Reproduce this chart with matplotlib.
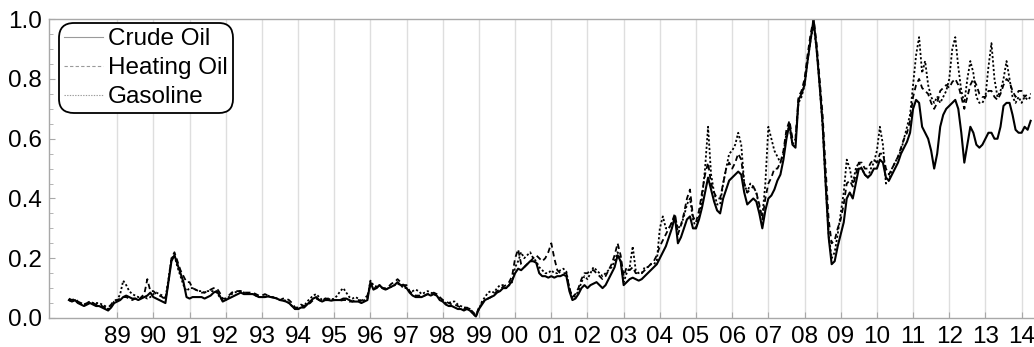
import numpy as np
import matplotlib.pyplot as plt
from matplotlib.ticker import MultipleLocator, FixedLocator, FormatStrFormatter

plt.rcParams['font.family'] = ['Liberation Sans', 'DejaVu Sans']

# monthly samples, Sep 1987 .. Apr 2014 (normalised prices, 0..1)
t0 = 1987 + 8/12
crude = [
    0.06, 0.055, 0.06, 0.05,
    0.045, 0.04, 0.045, 0.05, 0.045, 0.04, 0.04, 0.035, 0.03, 0.025, 0.035, 0.05,
    0.055, 0.06, 0.07, 0.075, 0.07, 0.065, 0.065, 0.06, 0.065, 0.07, 0.075, 0.085,
    0.07, 0.065, 0.06, 0.055, 0.05, 0.12, 0.19, 0.21, 0.18, 0.15, 0.12, 0.07,
    0.065, 0.07, 0.07, 0.07, 0.07, 0.065, 0.07, 0.075, 0.085, 0.09, 0.075, 0.055,
    0.06, 0.065, 0.07, 0.075, 0.08, 0.085, 0.08, 0.08, 0.08, 0.08, 0.075, 0.07,
    0.07, 0.07, 0.072, 0.07, 0.068, 0.065, 0.06, 0.058, 0.055, 0.05, 0.04, 0.03,
    0.03, 0.035, 0.035, 0.045, 0.055, 0.065, 0.07, 0.06, 0.055, 0.06, 0.06, 0.058,
    0.06, 0.06, 0.06, 0.065, 0.065, 0.06, 0.055, 0.055, 0.055, 0.05, 0.055, 0.06,
    0.12, 0.095, 0.1, 0.11, 0.1, 0.095, 0.1, 0.105, 0.11, 0.12, 0.11, 0.11,
    0.1, 0.085, 0.075, 0.07, 0.07, 0.07, 0.075, 0.08, 0.075, 0.08, 0.075, 0.06,
    0.055, 0.045, 0.04, 0.04, 0.035, 0.03, 0.03, 0.025, 0.03, 0.025, 0.015, 0.005,
    0.03, 0.045, 0.06, 0.065, 0.07, 0.075, 0.085, 0.09, 0.1, 0.1, 0.11, 0.125,
    0.15, 0.165, 0.16, 0.17, 0.18, 0.19, 0.19, 0.185, 0.15, 0.14, 0.14, 0.135,
    0.14, 0.135, 0.14, 0.14, 0.145, 0.14, 0.09, 0.06, 0.065, 0.08, 0.1, 0.11,
    0.1, 0.11, 0.115, 0.12, 0.11, 0.1, 0.11, 0.13, 0.15, 0.17, 0.21, 0.19,
    0.11, 0.12, 0.13, 0.135, 0.13, 0.125, 0.13, 0.14, 0.15, 0.16, 0.17, 0.18,
    0.2, 0.22, 0.24, 0.27, 0.3, 0.34, 0.25, 0.27, 0.3, 0.33, 0.34, 0.3,
    0.3, 0.33, 0.37, 0.42, 0.47, 0.43, 0.39, 0.36, 0.35, 0.4, 0.43, 0.46,
    0.47, 0.48, 0.49, 0.48, 0.42, 0.38, 0.39, 0.4, 0.39, 0.35, 0.3, 0.36,
    0.4, 0.41, 0.43, 0.46, 0.48, 0.53, 0.6, 0.65, 0.58, 0.57, 0.73, 0.75,
    0.78, 0.86, 0.93, 1.0, 0.9, 0.78, 0.65, 0.45, 0.27, 0.18, 0.19, 0.24,
    0.28, 0.32, 0.4, 0.42, 0.4, 0.45, 0.5, 0.5, 0.48, 0.47, 0.48, 0.5,
    0.5, 0.53, 0.52, 0.47, 0.46, 0.48, 0.5, 0.52, 0.55, 0.57, 0.59, 0.62,
    0.7, 0.73, 0.72, 0.64, 0.62, 0.6, 0.56, 0.5, 0.55, 0.64, 0.68, 0.7,
    0.71, 0.72, 0.73, 0.7, 0.62, 0.52, 0.58, 0.64, 0.62, 0.58, 0.57, 0.58,
    0.6, 0.62, 0.62, 0.6, 0.6, 0.64, 0.71, 0.72, 0.72, 0.68, 0.63, 0.62,
    0.62, 0.64, 0.63, 0.66,
]
heating = [
    0.065, 0.06, 0.065, 0.055,
    0.05, 0.045, 0.05, 0.055, 0.05, 0.045, 0.045, 0.04, 0.035, 0.035, 0.045, 0.06,
    0.06, 0.065, 0.07, 0.07, 0.065, 0.06, 0.065, 0.06, 0.07, 0.08, 0.13, 0.09,
    0.09, 0.08, 0.075, 0.07, 0.06, 0.12, 0.2, 0.22, 0.19, 0.16, 0.14, 0.12,
    0.12, 0.1, 0.095, 0.09, 0.085, 0.085, 0.09, 0.095, 0.1, 0.1, 0.085, 0.065,
    0.065, 0.075, 0.085, 0.09, 0.09, 0.09, 0.085, 0.085, 0.085, 0.085, 0.08, 0.075,
    0.075, 0.08, 0.075, 0.07, 0.068, 0.065, 0.06, 0.065, 0.065, 0.06, 0.05, 0.035,
    0.035, 0.045, 0.04, 0.045, 0.05, 0.06, 0.065, 0.06, 0.055, 0.065, 0.065, 0.065,
    0.06, 0.06, 0.058, 0.06, 0.06, 0.055, 0.055, 0.06, 0.06, 0.058, 0.065, 0.075,
    0.11, 0.1, 0.1, 0.11, 0.1, 0.1, 0.105, 0.115, 0.12, 0.13, 0.12, 0.11,
    0.11, 0.09, 0.08, 0.075, 0.075, 0.075, 0.075, 0.08, 0.08, 0.085, 0.08, 0.07,
    0.06, 0.055, 0.05, 0.045, 0.045, 0.04, 0.035, 0.03, 0.035, 0.03, 0.02, 0.01,
    0.035, 0.05, 0.06, 0.065, 0.07, 0.08, 0.09, 0.095, 0.105, 0.11, 0.12, 0.14,
    0.2, 0.23, 0.18, 0.17, 0.18, 0.19, 0.2, 0.21, 0.2, 0.19, 0.2, 0.22,
    0.25, 0.2, 0.16, 0.15, 0.15, 0.15, 0.1, 0.07, 0.08, 0.1, 0.13, 0.15,
    0.15, 0.16, 0.16, 0.15, 0.14, 0.13, 0.14, 0.16, 0.18, 0.21, 0.25, 0.21,
    0.14, 0.17, 0.16, 0.17, 0.15, 0.15, 0.15, 0.16, 0.17, 0.18, 0.19, 0.21,
    0.24, 0.26, 0.28, 0.3, 0.32, 0.35, 0.28, 0.31, 0.35, 0.4, 0.43, 0.34,
    0.32, 0.36, 0.42, 0.48, 0.52, 0.45, 0.42, 0.4, 0.4, 0.45, 0.5, 0.52,
    0.5, 0.52, 0.55, 0.53, 0.45, 0.42, 0.43, 0.44, 0.42, 0.38, 0.33, 0.4,
    0.45, 0.47, 0.5, 0.5, 0.52, 0.56, 0.63, 0.66, 0.6, 0.6, 0.74, 0.76,
    0.8, 0.88, 0.95, 1.0, 0.92, 0.8, 0.68, 0.5, 0.33, 0.25, 0.26, 0.3,
    0.33, 0.38, 0.45, 0.46, 0.44, 0.48, 0.52, 0.52, 0.5, 0.5, 0.52, 0.53,
    0.52, 0.55, 0.55, 0.5, 0.48, 0.5, 0.52, 0.54, 0.57, 0.6, 0.62, 0.66,
    0.74, 0.78, 0.8, 0.77, 0.76, 0.75, 0.72, 0.7, 0.72, 0.76, 0.77, 0.78,
    0.77, 0.79, 0.8, 0.78, 0.74, 0.7, 0.74, 0.78, 0.8, 0.78, 0.75, 0.74,
    0.74, 0.76, 0.76, 0.74, 0.73, 0.75, 0.78, 0.8, 0.79, 0.76, 0.74, 0.76,
    0.76, 0.74, 0.75, 0.75,
]
gasoline = [
    0.06, 0.055, 0.06, 0.05,
    0.05, 0.045, 0.05, 0.055, 0.05, 0.05, 0.05, 0.045, 0.04, 0.03, 0.04, 0.055,
    0.06, 0.08, 0.125, 0.11, 0.09, 0.08, 0.075, 0.07, 0.07, 0.07, 0.065, 0.07,
    0.08, 0.085, 0.08, 0.075, 0.065, 0.13, 0.2, 0.21, 0.17, 0.14, 0.11, 0.09,
    0.1, 0.1, 0.095, 0.09, 0.09, 0.085, 0.09, 0.09, 0.09, 0.085, 0.07, 0.06,
    0.06, 0.07, 0.08, 0.085, 0.09, 0.09, 0.085, 0.085, 0.08, 0.08, 0.075, 0.07,
    0.07, 0.072, 0.075, 0.07, 0.07, 0.065, 0.06, 0.06, 0.058, 0.05, 0.04, 0.03,
    0.03, 0.035, 0.04, 0.055, 0.065, 0.075, 0.08, 0.07, 0.06, 0.065, 0.065, 0.06,
    0.065, 0.075, 0.09, 0.1, 0.085, 0.07, 0.065, 0.07, 0.065, 0.055, 0.06, 0.065,
    0.125, 0.11, 0.105, 0.11, 0.1, 0.095, 0.1, 0.105, 0.11, 0.115, 0.11, 0.1,
    0.1, 0.09, 0.09, 0.095, 0.09, 0.08, 0.085, 0.09, 0.085, 0.08, 0.075, 0.065,
    0.06, 0.05, 0.05, 0.055, 0.055, 0.045, 0.04, 0.035, 0.035, 0.03, 0.015, 0.005,
    0.03, 0.055, 0.07, 0.085, 0.09, 0.085, 0.1, 0.11, 0.11, 0.1, 0.11, 0.12,
    0.17, 0.19, 0.22, 0.2, 0.21, 0.22, 0.2, 0.19, 0.17, 0.16, 0.15, 0.15,
    0.16, 0.15, 0.15, 0.16, 0.165, 0.155, 0.1, 0.065, 0.075, 0.09, 0.12, 0.14,
    0.13, 0.15, 0.17, 0.16, 0.15, 0.14, 0.15, 0.16, 0.17, 0.19, 0.22, 0.19,
    0.12, 0.15, 0.17, 0.24, 0.16, 0.15, 0.15, 0.17, 0.17, 0.18, 0.18, 0.19,
    0.3, 0.34, 0.3, 0.3, 0.32, 0.34, 0.3, 0.31, 0.34, 0.38, 0.4, 0.33,
    0.3, 0.34, 0.4, 0.5, 0.64, 0.48, 0.42, 0.38, 0.38, 0.45, 0.5, 0.55,
    0.56, 0.58, 0.62, 0.58, 0.45, 0.42, 0.45, 0.44, 0.42, 0.37, 0.34, 0.45,
    0.64, 0.6, 0.56, 0.54, 0.52, 0.55, 0.62, 0.64, 0.58, 0.6, 0.72, 0.74,
    0.78, 0.86, 0.93, 0.98, 0.9, 0.78, 0.64, 0.45, 0.28, 0.2, 0.22, 0.28,
    0.35, 0.42, 0.53, 0.5, 0.45, 0.5, 0.52, 0.5, 0.48, 0.47, 0.5, 0.52,
    0.56, 0.64, 0.58, 0.45, 0.46, 0.5, 0.52, 0.54, 0.56, 0.6, 0.64, 0.68,
    0.78, 0.88, 0.94, 0.82, 0.86, 0.78, 0.74, 0.72, 0.74, 0.72, 0.74, 0.76,
    0.8, 0.9, 0.94, 0.84, 0.76, 0.72, 0.8, 0.86, 0.82, 0.74, 0.72, 0.72,
    0.74, 0.84, 0.92, 0.8, 0.74, 0.76, 0.8, 0.86, 0.8, 0.74, 0.72, 0.74,
    0.72, 0.74, 0.73, 0.74,
]
year_labels = ['89', '90', '91', '92', '93', '94', '95', '96', '97', '98', '99',
               '00', '01', '02', '03', '04', '05', '06', '07', '08', '09', '10',
               '11', '12', '13', '14']

t = t0 + np.arange(len(crude)) / 12
year_pos = 1989 + np.arange(len(year_labels))

fig = plt.figure(figsize=(10.34, 3.47), dpi=100)
ax = fig.add_axes([0.0474, 0.0836, 0.9546, 0.861])

ax.plot(t, crude, color='black', lw=1.5, ls='-', label='Crude Oil')
ax.plot(t, heating, color='black', lw=1.3, ls=(0, (3, 2)), label='Heating Oil')
ax.plot(t, gasoline, color='black', lw=1.3, ls=(0, (1.2, 1.2)), label='Gasoline')

ax.set_xlim(1987.116, 2014.40)
ax.set_ylim(0, 1.0)

ax.xaxis.set_major_locator(FixedLocator(year_pos))
ax.set_xticklabels(year_labels)
ax.yaxis.set_major_locator(MultipleLocator(0.2))
ax.yaxis.set_minor_locator(MultipleLocator(0.05))
ax.yaxis.set_major_formatter(FormatStrFormatter('%.1f'))
ax.grid(axis='x', color='#dedede', lw=1.0)
ax.set_axisbelow(True)

for s in ax.spines.values():
    s.set_color('#a8a8a8')
    s.set_linewidth(1.0)
ax.tick_params(axis='both', which='both', direction='in', color='#a8a8a8',
               labelsize=17.5, labelcolor='black')
ax.tick_params(axis='y', which='major', length=4, pad=5)
ax.tick_params(axis='y', which='minor', length=3)
ax.tick_params(axis='x', which='major', length=4, pad=6)

leg = ax.legend(loc='upper left', bbox_to_anchor=(0.0102, 0.987), fontsize=17.5,
                frameon=True, fancybox=True, edgecolor='black', framealpha=1,
                handlelength=1.6, handletextpad=0.2, labelspacing=0.28,
                borderpad=0.22, borderaxespad=0)
leg.get_frame().set_linewidth(1.3)
leg.get_frame().set_boxstyle('round', pad=0, rounding_size=0.6)
for ln in leg.get_lines():
    ln.set_color('#9a9a9a')
    ln.set_linewidth(0.8)

fig.savefig('out.png', dpi=100)
